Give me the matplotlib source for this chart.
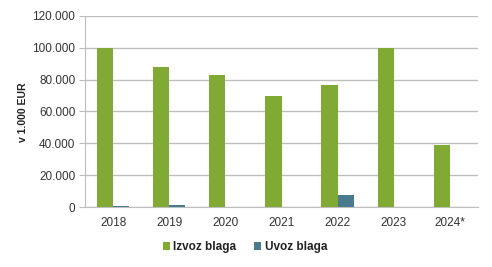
import matplotlib
matplotlib.use("Agg")
import matplotlib.pyplot as plt
import numpy as np
from matplotlib.ticker import FuncFormatter

categories = ["2018", "2019", "2020", "2021", "2022", "2023", "2024*"]
izvoz = [100000, 88000, 83000, 69500, 76500, 100000, 39000]
uvoz = [700, 1200, 200, 100, 7400, 100, 100]
series_names = ["Izvoz blaga", "Uvoz blaga"]
yticks = [0, 20000, 40000, 60000, 80000, 100000, 120000]

plt.rcParams['font.family'] = ['Liberation Sans', 'DejaVu Sans']

fig = plt.figure(figsize=(4.92, 2.67), dpi=100)
ax = fig.add_axes([85/492, 1-207/267, (478-85)/492, (207-16)/267])

x = np.arange(len(categories))
w = 0.29
green = "#80AA34"
blue = "#4A7A8E"
ax.bar(x - w/2, izvoz, width=w, color=green, label=series_names[0], zorder=3)
ax.bar(x + w/2, uvoz, width=w, color=blue, label=series_names[1], zorder=3)

ax.set_xlim(-0.5, len(categories) - 0.5)
ax.set_ylim(0, 120000)
ax.set_yticks(yticks)
ax.yaxis.set_major_formatter(FuncFormatter(lambda v, p: "0" if v == 0 else f"{int(v):,}".replace(",", ".")))
ax.set_xticks(x)
ax.set_xticklabels(categories)

ax.grid(axis='y', color='#BEBEBE', linewidth=1.0, zorder=0)
for s in ['top', 'right']:
    ax.spines[s].set_visible(False)
ax.spines['left'].set_color('#BEBEBE')
ax.spines['bottom'].set_color('#BEBEBE')
ax.tick_params(axis='y', length=4, color='#BEBEBE', labelsize=8.5, labelcolor='#333333', pad=3)
ax.tick_params(axis='x', length=0, labelsize=8.5, labelcolor='#333333', pad=7)

fig.text(23/492, 1-112/267, "v 1.000 EUR", rotation=90, ha='center', va='center',
         fontsize=7.5, fontweight='bold', color='#222222')

leg = fig.legend(loc='center', bbox_to_anchor=(245/492, 1-247/267), ncol=2, frameon=False,
                 fontsize=8.5, handlelength=0.6, handleheight=0.6, handletextpad=0.3, columnspacing=1.5)
for t in leg.get_texts():
    t.set_fontweight('bold')
    t.set_color('#222222')

fig.savefig("out.png", dpi=100)
